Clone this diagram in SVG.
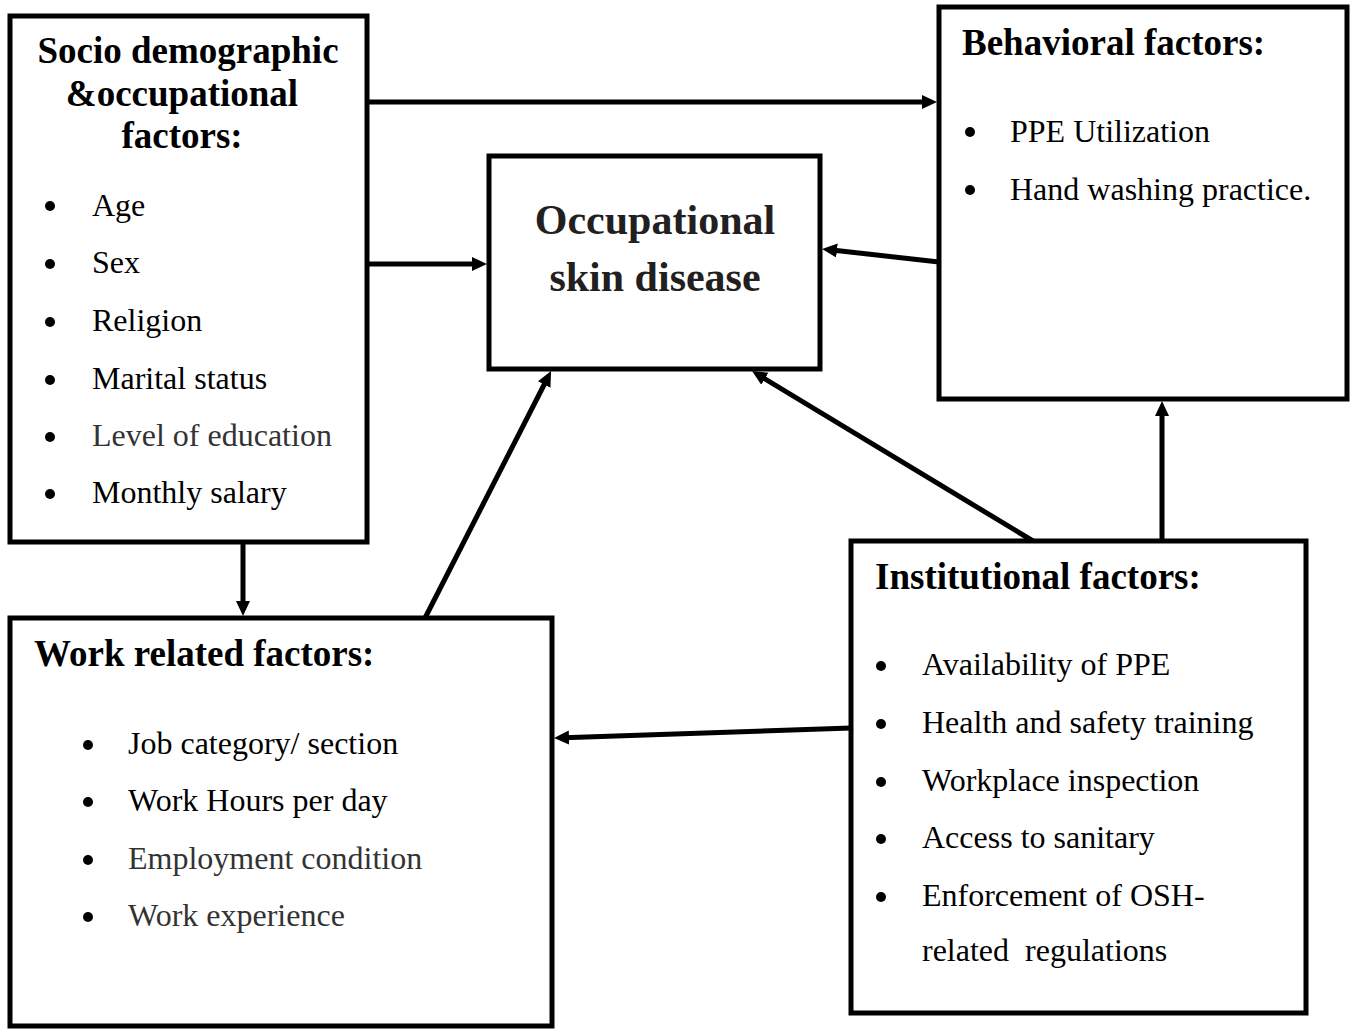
<svg xmlns="http://www.w3.org/2000/svg" width="1351" height="1030" viewBox="0 0 1351 1030">
<style>
.box{fill:#fff;stroke:#000;stroke-width:5}
.t{font-family:"Liberation Serif","Times New Roman",serif;fill:#000}
.title{font-size:37px;font-weight:bold}
.main{font-size:42px;font-weight:bold;fill:#231f20}
.item{font-size:32px}
.gray{fill:#333}
.bul{fill:#000}
.conn{stroke:#000;stroke-width:5;fill:none;marker-end:url(#arr)}
</style>
<defs>
<marker id="arr" markerUnits="userSpaceOnUse" markerWidth="16" markerHeight="16" refX="5" refY="7" orient="auto">
<path d="M0,0 L15,7 L0,14 z" fill="#000"/>
</marker>
</defs>
<rect width="1351" height="1030" fill="#fff"/>

<g id="connectors">
<path class="conn" d="M367,102 L927,102"/>
<path class="conn" d="M367,264 L477,264"/>
<path class="conn" d="M939,262 L832,250"/>
<path class="conn" d="M243,542 L243,606"/>
<path class="conn" d="M425,618 L546.5,380"/>
<path class="conn" d="M1033,541 L760.6,376.2"/>
<path class="conn" d="M1162,541 L1162,411"/>
<path class="conn" d="M851,728 L564,737.7"/>
</g>

<g id="socio">
<rect class="box" x="10" y="16" width="357" height="526"/>
<text class="t title" x="188" y="63" text-anchor="middle">Socio demographic</text>
<text class="t title" x="182" y="106" text-anchor="middle">&amp;occupational</text>
<text class="t title" x="182" y="148" text-anchor="middle">factors:</text>
<g class="bul">
<circle cx="50" cy="206" r="5"/><circle cx="50" cy="264" r="5"/><circle cx="50" cy="322" r="5"/>
<circle cx="50" cy="380" r="5"/><circle cx="50" cy="437" r="5"/><circle cx="50" cy="494" r="5"/>
</g>
<text class="t item" x="92" y="216">Age</text>
<text class="t item" x="92" y="273">Sex</text>
<text class="t item" x="92" y="331">Religion</text>
<text class="t item" x="92" y="389">Marital status</text>
<text class="t item gray" x="92" y="446">Level of education</text>
<text class="t item" x="92" y="503">Monthly salary</text>
</g>

<g id="outcome">
<rect class="box" x="489" y="156" width="331" height="213"/>
<text class="t main" x="655" y="234" text-anchor="middle">Occupational</text>
<text class="t main" x="655" y="291" text-anchor="middle">skin disease</text>
</g>

<g id="behavioral">
<rect class="box" x="939" y="7" width="408" height="392"/>
<text class="t title" x="962" y="55">Behavioral factors:</text>
<circle cx="970" cy="132" r="5"/><circle cx="970" cy="190" r="5"/>
<text class="t item" x="1010" y="142">PPE Utilization</text>
<text class="t item" x="1010" y="200">Hand washing practice.</text>
</g>

<g id="work">
<rect class="box" x="10" y="618" width="542" height="408"/>
<text class="t title" x="34" y="666">Work related factors:</text>
<circle cx="88" cy="745" r="5"/><circle cx="88" cy="802" r="5"/><circle cx="88" cy="860" r="5"/><circle cx="88" cy="917" r="5"/>
<text class="t item" x="128" y="754">Job category/ section</text>
<text class="t item" x="128" y="811">Work Hours per day</text>
<text class="t item gray" x="128" y="869">Employment condition</text>
<text class="t item gray" x="128" y="926">Work experience</text>
</g>

<g id="institutional">
<rect class="box" x="851" y="541" width="455" height="472"/>
<text class="t title" x="875" y="589">Institutional factors:</text>
<circle cx="881" cy="666" r="5"/><circle cx="881" cy="724" r="5"/><circle cx="881" cy="782" r="5"/><circle cx="881" cy="839" r="5"/><circle cx="881" cy="897" r="5"/>
<text class="t item" x="922" y="675">Availability of PPE</text>
<text class="t item" x="922" y="733">Health and safety training</text>
<text class="t item" x="922" y="791">Workplace inspection</text>
<text class="t item" x="922" y="848">Access to sanitary</text>
<text class="t item" x="922" y="906">Enforcement of OSH-</text>
<text class="t item" x="922" y="961" xml:space="preserve">related  regulations</text>
</g>
</svg>
